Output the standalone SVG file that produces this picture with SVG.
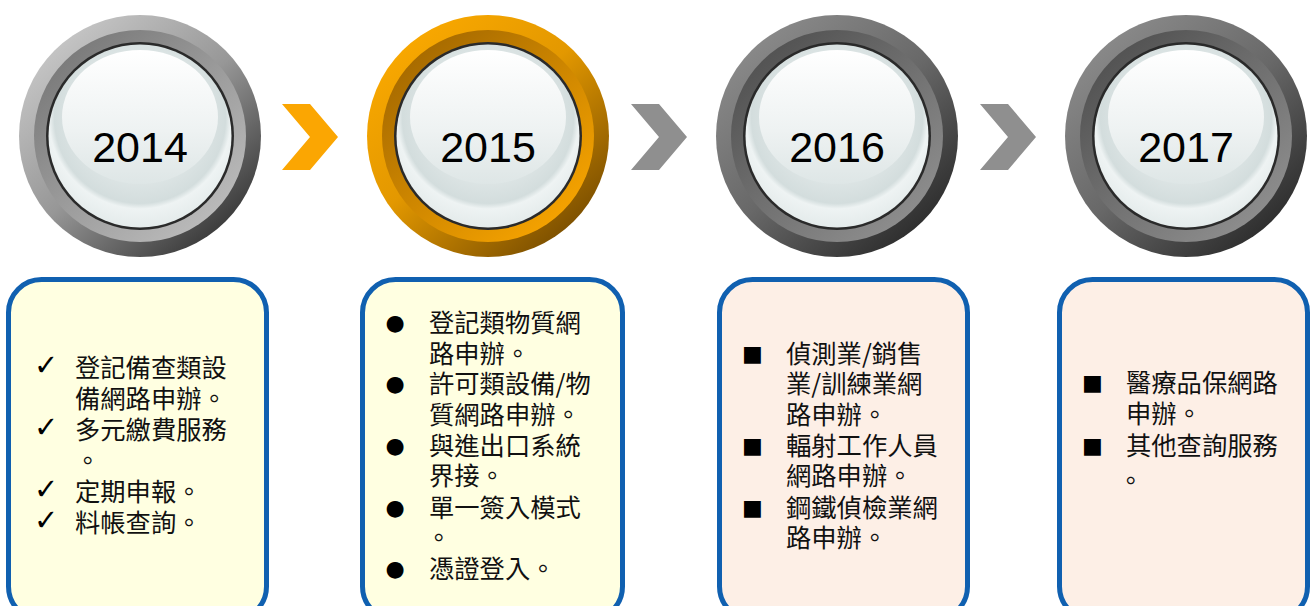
<svg xmlns="http://www.w3.org/2000/svg" width="1310" height="606" viewBox="0 0 1310 606">
<defs>
<linearGradient id="gOuterLight" x1="0.15" y1="0.1" x2="0.85" y2="0.9">
<stop offset="0" stop-color="#C6C6C6"/><stop offset="0.5" stop-color="#979797"/><stop offset="1" stop-color="#383838"/>
</linearGradient>
<linearGradient id="gInnerLight" x1="0.15" y1="0.1" x2="0.85" y2="0.9">
<stop offset="0" stop-color="#7A7A7A"/><stop offset="1" stop-color="#BBBBBB"/>
</linearGradient>
<linearGradient id="gOuterOrange" x1="0.15" y1="0.1" x2="0.85" y2="0.9">
<stop offset="0" stop-color="#F9A800"/><stop offset="0.45" stop-color="#E39800"/><stop offset="1" stop-color="#7A4E00"/>
</linearGradient>
<linearGradient id="gInnerOrange" x1="0.15" y1="0.1" x2="0.85" y2="0.9">
<stop offset="0" stop-color="#A66A00"/><stop offset="1" stop-color="#F6A300"/>
</linearGradient>
<linearGradient id="gOuterDark" x1="0.15" y1="0.1" x2="0.85" y2="0.9">
<stop offset="0" stop-color="#8A8A8A"/><stop offset="0.5" stop-color="#686868"/><stop offset="1" stop-color="#2C2C2C"/>
</linearGradient>
<linearGradient id="gInnerDark" x1="0.15" y1="0.1" x2="0.85" y2="0.9">
<stop offset="0" stop-color="#525252"/><stop offset="1" stop-color="#8E8E8E"/>
</linearGradient>
<radialGradient id="gFace" cx="0.5" cy="0.4" r="0.6">
<stop offset="0" stop-color="#F4F7F7"/><stop offset="0.6" stop-color="#DCE4E4"/><stop offset="0.78" stop-color="#D3DDDD"/><stop offset="0.83" stop-color="#EEF3F3"/><stop offset="1" stop-color="#E4EBEB"/>
</radialGradient>
<linearGradient id="gHi" x1="0" y1="0" x2="0" y2="1">
<stop offset="0" stop-color="#FFFFFF"/><stop offset="0.6" stop-color="#EEF2F2"/><stop offset="1" stop-color="#DEE6E6"/>
</linearGradient>
<style>
.face{fill:url(#gFace)}
.rim{fill:#2A2A2A}
.hi{fill:url(#gHi)}
.year{font-family:"Liberation Sans",Arial,sans-serif;font-size:43px;fill:#000;text-anchor:middle}
.box{stroke:#1060B0;stroke-width:5}
.yel{fill:#FFFFE1}
.pch{fill:#FDEFE6}
.t{font-family:"Noto Sans CJK TC","Noto Sans CJK SC",sans-serif;font-size:25.3px;fill:#111}
.b{font-family:"DejaVu Sans",sans-serif;fill:#000}
.ck{font-size:29px;font-weight:bold}
.dot{font-size:22px}
.sq{font-size:22px}
</style>
</defs>
<rect width="1310" height="606" fill="#FFFFFF"/>

<g id="connectors">
<polygon points="282,104 310,104 338,137 310,170 282,170 310,137" fill="#FBA602"/>
<polygon points="631,104 659,104 687,137 659,170 631,170 659,137" fill="#8F8F8F"/>
<polygon points="980,104 1008,104 1036,137 1008,170 980,170 1008,137" fill="#8F8F8F"/>
</g>

<g id="node-2014">
<circle cx="140" cy="136" r="121" fill="url(#gOuterLight)"/>
<circle cx="140" cy="136" r="106" fill="url(#gInnerLight)"/>
<circle class="rim" cx="140" cy="136" r="94"/>
<circle class="face" cx="140" cy="136" r="91.5"/>
<ellipse class="hi" cx="140" cy="117" rx="78" ry="67"/>
<text class="year" x="140" y="162">2014</text>
</g>
<g id="node-2015">
<circle cx="488" cy="136" r="121" fill="url(#gOuterOrange)"/>
<circle cx="488" cy="136" r="106" fill="url(#gInnerOrange)"/>
<circle class="rim" cx="488" cy="136" r="94"/>
<circle class="face" cx="488" cy="136" r="91.5"/>
<ellipse class="hi" cx="488" cy="117" rx="78" ry="67"/>
<text class="year" x="488" y="162">2015</text>
</g>
<g id="node-2016">
<circle cx="837" cy="136" r="121" fill="url(#gOuterDark)"/>
<circle cx="837" cy="136" r="106" fill="url(#gInnerDark)"/>
<circle class="rim" cx="837" cy="136" r="94"/>
<circle class="face" cx="837" cy="136" r="91.5"/>
<ellipse class="hi" cx="837" cy="117" rx="78" ry="67"/>
<text class="year" x="837" y="162">2016</text>
</g>
<g id="node-2017">
<circle cx="1186" cy="136" r="121" fill="url(#gOuterDark)"/>
<circle cx="1186" cy="136" r="106" fill="url(#gInnerDark)"/>
<circle class="rim" cx="1186" cy="136" r="94"/>
<circle class="face" cx="1186" cy="136" r="91.5"/>
<ellipse class="hi" cx="1186" cy="117" rx="78" ry="67"/>
<text class="year" x="1186" y="162">2017</text>
</g>

<g id="box-2014">
<rect class="box yel" x="8.5" y="279.5" width="258" height="340" rx="33"/>
<text class="b ck" x="34" y="375">✓</text>
<text class="b ck" x="34" y="437">✓</text>
<text class="b ck" x="34" y="499">✓</text>
<text class="b ck" x="34" y="530">✓</text>
<text class="t"><tspan x="75" y="377">登記備查類設</tspan><tspan x="75" y="408">備網路申辦。</tspan><tspan x="75" y="439">多元繳費服務</tspan><tspan x="75" y="470">。</tspan><tspan x="75" y="501">定期申報。</tspan><tspan x="75" y="532">料帳查詢。</tspan></text>
</g>

<g id="box-2015">
<rect class="box yel" x="362.5" y="279.5" width="260" height="340" rx="33"/>
<text class="b dot" x="395" y="330" text-anchor="middle">●</text>
<text class="b dot" x="395" y="391" text-anchor="middle">●</text>
<text class="b dot" x="395" y="453" text-anchor="middle">●</text>
<text class="b dot" x="395" y="515" text-anchor="middle">●</text>
<text class="b dot" x="395" y="576" text-anchor="middle">●</text>
<text class="t"><tspan x="429" y="332">登記類物質網</tspan><tspan x="429" y="363">路申辦。</tspan><tspan x="429" y="393">許可類設備/物</tspan><tspan x="429" y="424">質網路申辦。</tspan><tspan x="429" y="455">與進出口系統</tspan><tspan x="429" y="485">界接。</tspan><tspan x="429" y="517">單一簽入模式</tspan><tspan x="426" y="547">。</tspan><tspan x="429" y="578">憑證登入。</tspan></text>
</g>

<g id="box-2016">
<rect class="box pch" x="719.5" y="279.5" width="248" height="340" rx="33"/>
<text class="b sq" x="752.5" y="361" text-anchor="middle">■</text>
<text class="b sq" x="752.5" y="453" text-anchor="middle">■</text>
<text class="b sq" x="752.5" y="515" text-anchor="middle">■</text>
<text class="t"><tspan x="786" y="363">偵測業/銷售</tspan><tspan x="786" y="393">業/訓練業網</tspan><tspan x="786" y="424">路申辦。</tspan><tspan x="786" y="455">輻射工作人員</tspan><tspan x="786" y="485">網路申辦。</tspan><tspan x="786" y="517">鋼鐵偵檢業網</tspan><tspan x="786" y="547">路申辦。</tspan></text>
</g>

<g id="box-2017">
<rect class="box pch" x="1059.5" y="279.5" width="248" height="340" rx="33"/>
<text class="b sq" x="1092.5" y="390" text-anchor="middle">■</text>
<text class="b sq" x="1092.5" y="453" text-anchor="middle">■</text>
<text class="t"><tspan x="1126" y="392">醫療品保網路</tspan><tspan x="1126" y="423">申辦。</tspan><tspan x="1126" y="455">其他查詢服務</tspan><tspan x="1118" y="490">。</tspan></text>
</g>
</svg>
